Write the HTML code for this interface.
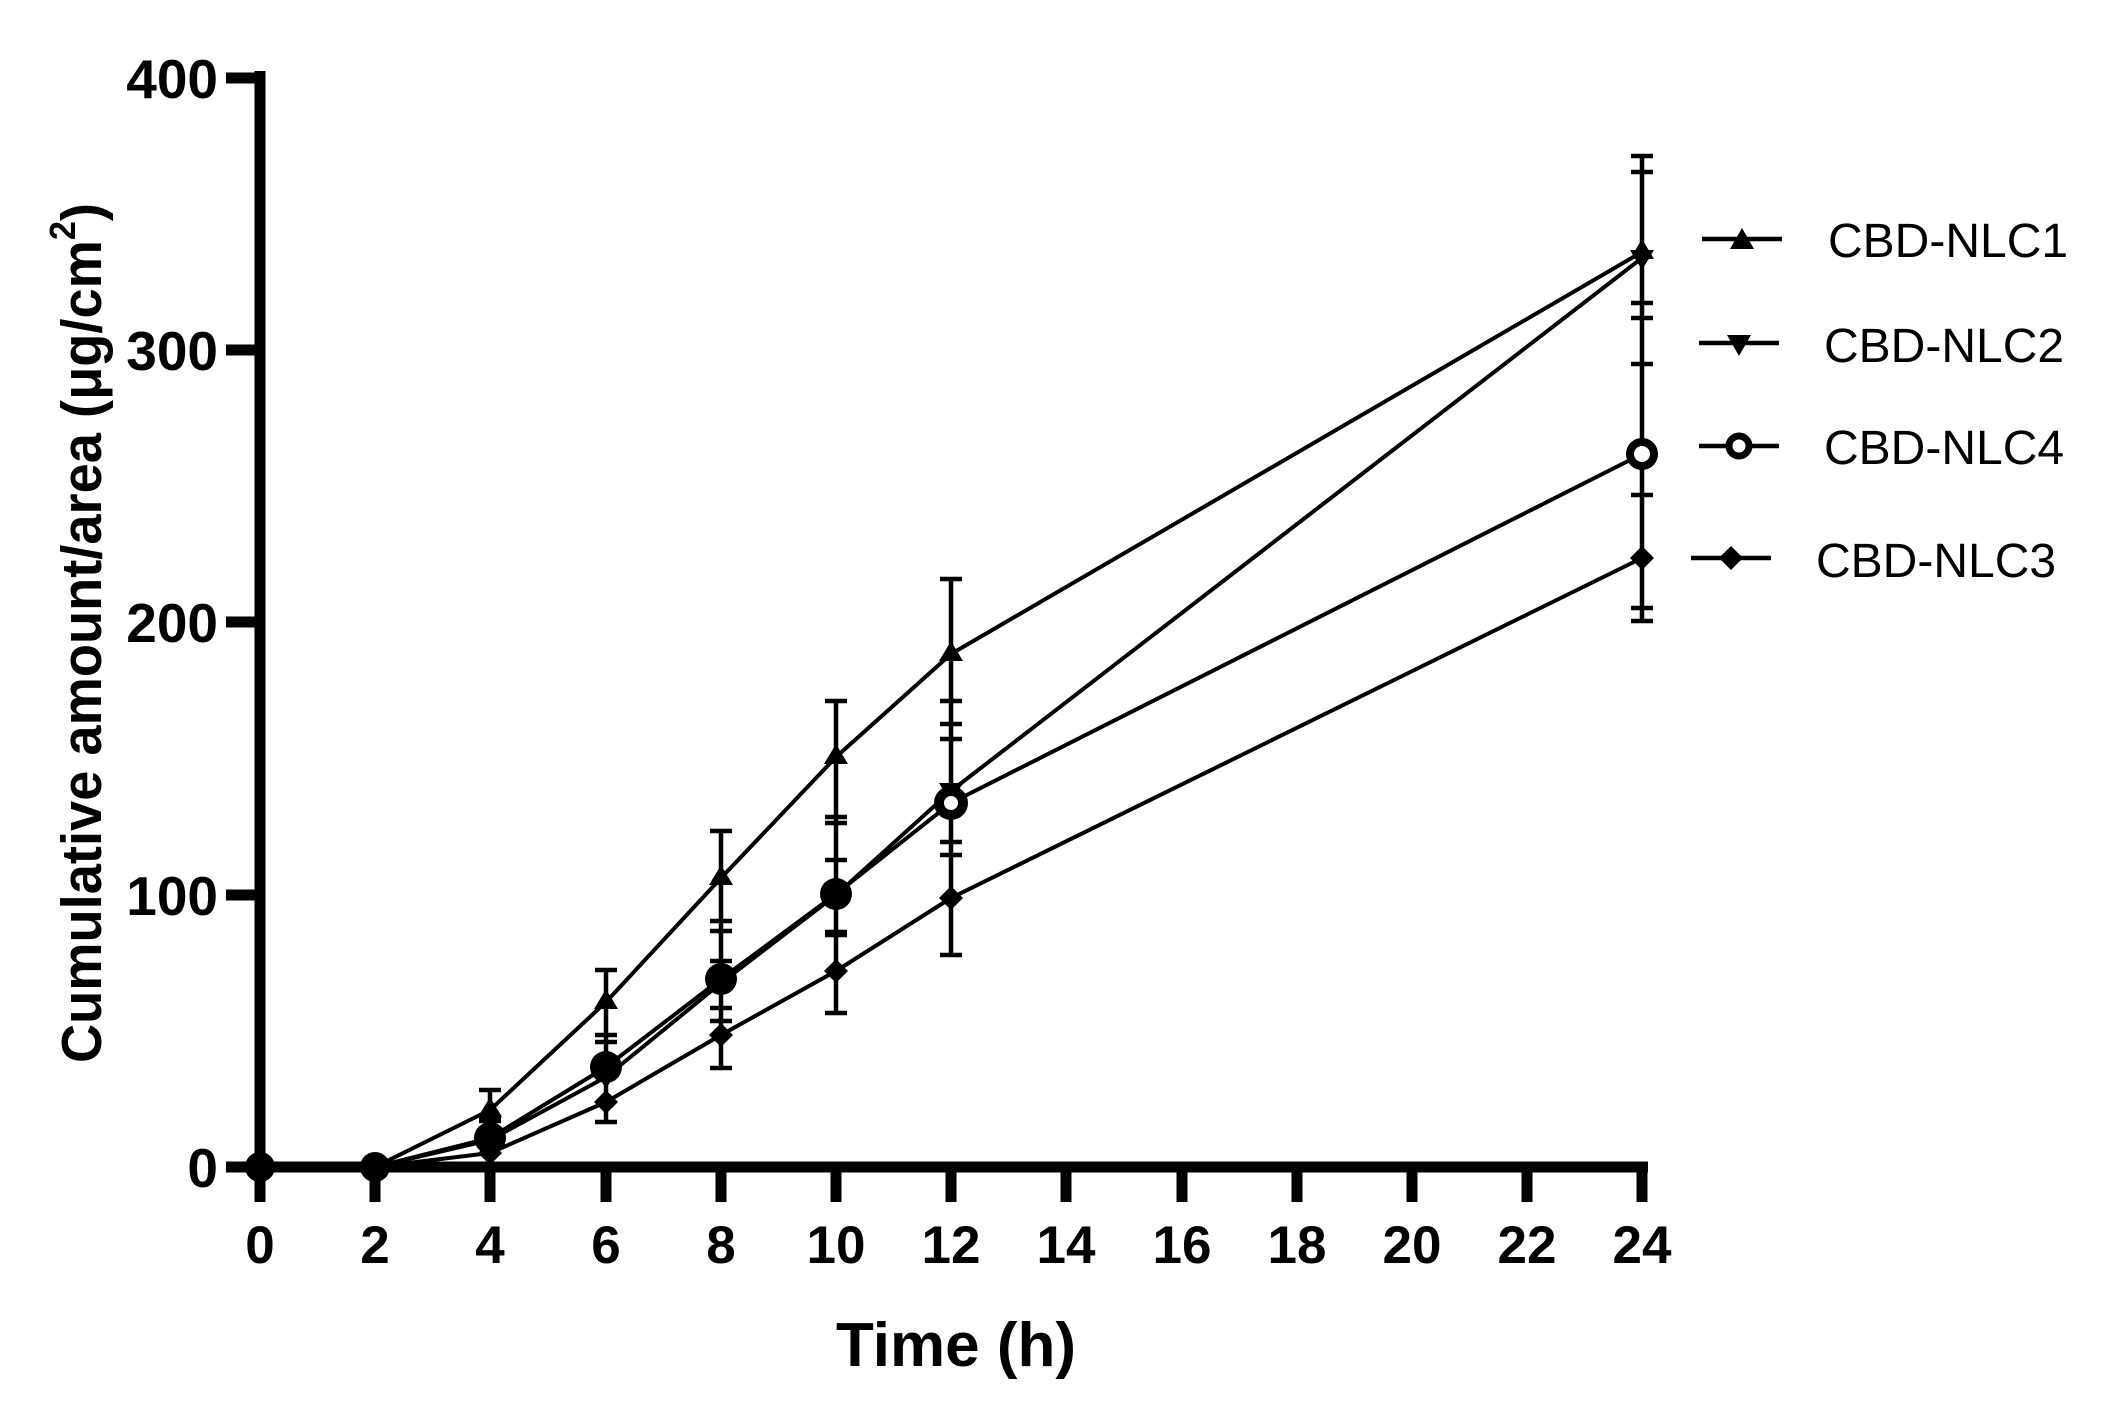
<!DOCTYPE html>
<html><head><meta charset="utf-8"><style>
html,body{margin:0;padding:0;background:#fff;}
svg{display:block;}
</style></head><body>
<svg width="2112" height="1414" viewBox="0 0 2112 1414" xmlns="http://www.w3.org/2000/svg" font-family="Liberation Sans, sans-serif">
<rect width="2112" height="1414" fill="#fff"/>
<g stroke="#000" stroke-width="4.5" fill="none">
<path d="M490 1090V1122M479 1090H501M479 1117H501M479 1121H501"/>
<path d="M606 970V1122M595 970H617M595 1035H617M595 1042H617M595 1122H617"/>
<path d="M721 831V1068M710 831H732M710 921H732M710 931H732M710 961H732M710 1008H732M710 1021H732M710 1068H732"/>
<path d="M836 701V1013M825 701H847M825 817H847M825 823H847M825 860H847M825 932H847M825 935H847M825 1013H847"/>
<path d="M951 579V955M940 579H962M940 701H962M940 724H962M940 739H962M940 842H962M940 855H962M940 955H962"/>
<path d="M1642 156V621M1631 156H1653M1631 172H1653M1631 303H1653M1631 318H1653M1631 364H1653M1631 495H1653M1631 608H1653M1631 621H1653"/>
</g>
<g stroke="#000" stroke-width="4" fill="none" stroke-linejoin="round">
<polyline points="260,1167 375,1167 490,1110 606,1002 721,878 836,757 951,654 1642,252"/>
<polyline points="260,1167 375,1167 490,1140 606,1077 721,983 836,895 951,791 1642,258"/>
<polyline points="260,1167 375,1167 490,1138 606,1067 721,979 836,894 951,803 1642,454"/>
<polyline points="260,1167 375,1167 490,1153 606,1102 721,1035 836,971 951,898 1642,558"/>
</g>
<g fill="#000">
<path d="M490 1097l12 20h-24z M606 989l12 20h-24z M721 865l12 20h-24z M836 744l12 20h-24z M951 641l12 20h-24z M1642 239l12 20h-24z"/>
<path d="M478 1132h24l-12 20z M594 1069h24l-12 20z M709 975h24l-12 20z M824 887h24l-12 20z M939 783h24l-12 20z M1630 250h24l-12 20z"/>
<path d="M490 1141l12 12-12 12-12-12z M606 1090l12 12-12 12-12-12z M721 1023l12 12-12 12-12-12z M836 959l12 12-12 12-12-12z M951 886l12 12-12 12-12-12z M1642 546l12 12-12 12-12-12z"/>
<circle cx="260" cy="1167" r="15"/><circle cx="375" cy="1167" r="15"/>
<circle cx="490" cy="1138" r="16"/><circle cx="606" cy="1067" r="16"/><circle cx="721" cy="979" r="16"/><circle cx="836" cy="894" r="16"/>
</g>
<g stroke="#000" stroke-width="10" fill="#fff">
<circle cx="951" cy="803" r="12"/>
</g>
<g stroke="#000" stroke-width="8" fill="#fff">
<circle cx="1642" cy="454" r="12"/>
</g>
<g stroke="#000" stroke-width="11" fill="none">
<path d="M260 71V1173"/>
<path d="M254 1167H1648"/>
<path d="M226 78H260M226 350H260M226 622H260M226 895H260M226 1167H260"/>
<path d="M260 1167V1202M375 1167V1202M490 1167V1202M606 1167V1202M721 1167V1202M836 1167V1202M951 1167V1202M1066 1167V1202M1182 1167V1202M1297 1167V1202M1412 1167V1202M1527 1167V1202M1642 1167V1202"/>
</g>
<g font-weight="bold" font-size="55" text-anchor="end" fill="#000">
<text x="218" y="98">400</text><text x="218" y="370">300</text><text x="218" y="642">200</text><text x="218" y="915">100</text><text x="218" y="1187">0</text>
</g>
<g font-weight="bold" font-size="53" text-anchor="middle" fill="#000">
<text x="260" y="1263">0</text><text x="375" y="1263">2</text><text x="490" y="1263">4</text><text x="606" y="1263">6</text><text x="721" y="1263">8</text><text x="836" y="1263">10</text><text x="951" y="1263">12</text><text x="1066" y="1263">14</text><text x="1182" y="1263">16</text><text x="1297" y="1263">18</text><text x="1412" y="1263">20</text><text x="1527" y="1263">22</text><text x="1642" y="1263">24</text>
</g>
<text x="956" y="1366" font-weight="bold" font-size="62" text-anchor="middle">Time (h)</text>
<text transform="translate(101,1063) rotate(-90)" font-weight="bold" font-size="57" textLength="860" lengthAdjust="spacingAndGlyphs">Cumulative amount/area (μg/cm<tspan font-size="36" dy="-26">2</tspan><tspan dy="26">)</tspan></text>
<g stroke="#000" stroke-width="4.5">
<path d="M1702 239H1782M1699 343H1779M1699 446H1779M1691 558H1771"/>
</g>
<g fill="#000">
<path d="M1742 228l12 21h-24z"/>
<path d="M1727 335h24l-12 21z"/>
<path d="M1731 546l12 12-12 12-12-12z"/>
</g>
<circle cx="1739" cy="446" r="10" stroke="#000" stroke-width="7" fill="#fff"/>
<g font-size="48" fill="#000">
<text x="1828" y="257">CBD-NLC1</text>
<text x="1824" y="362">CBD-NLC2</text>
<text x="1824" y="464">CBD-NLC4</text>
<text x="1816" y="577">CBD-NLC3</text>
</g>
</svg>
</body></html>
